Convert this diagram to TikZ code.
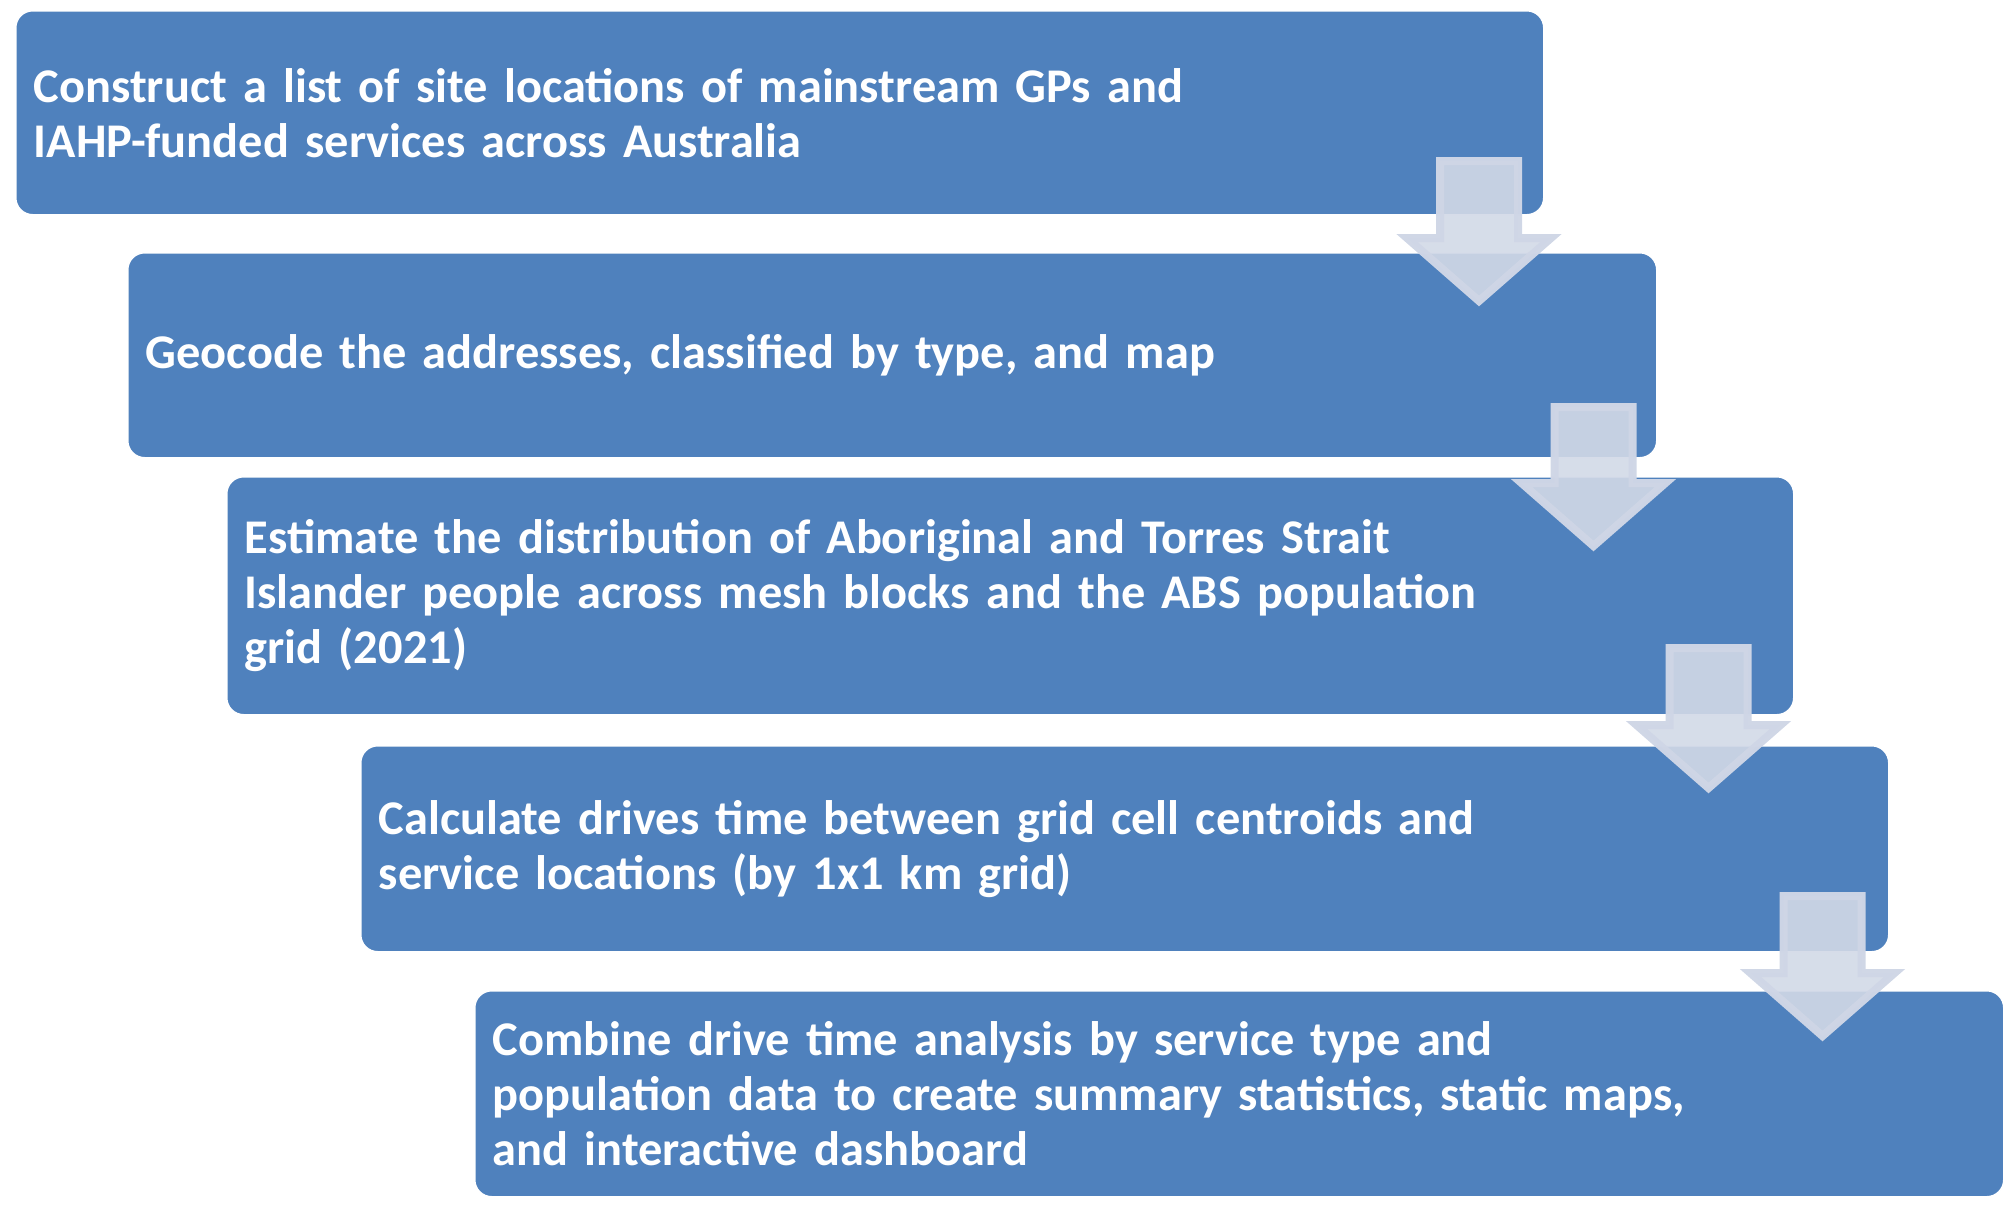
\documentclass[tikz,border=0pt]{standalone}
\usepackage{fontspec}
\setmainfont{Carlito}
\definecolor{boxblue}{RGB}{79,129,189}
\definecolor{arrowfill}{RGB}{210,217,231}
\definecolor{arrowedge}{RGB}{207,214,230}
\tikzset{
  stepbox/.style={draw=white, line width=1.5bp, fill=boxblue, rounded corners=17bp,
    anchor=north west, inner xsep=18bp, inner ysep=0bp, align=left, text=white,
    font=\fontsize{48.4bp}{55bp}\selectfont\bfseries},
  flowarrow/.style={fill=arrowfill, fill opacity=0.9, draw=arrowedge, draw opacity=0.98,
    line width=8bp, line join=miter}
}
\newcommand\dnarrow[4]{% cx, top, base, tip (outer)
  \draw[flowarrow] (#1-39,#2+4) -- (#1+39,#2+4) -- (#1+39,#3+4) -- (#1+72,#3+4)
     -- (#1,#4-6) -- (#1-72,#3+4) -- (#1-39,#3+4) -- cycle;}
\begin{document}
\begin{tikzpicture}[x=1bp,y=-1bp]
\useasboundingbox (0,0) rectangle (2013,1207);
\node[stepbox, text width=1492bp, minimum height=204bp] (b1) at (15,10)
  {Construct a list of site locations of mainstream GPs and\\IAHP-funded services across Australia};
\node[stepbox, text width=1493bp, minimum height=205bp] (b2) at (127,252)
  {Geocode the addresses, classified by type, and map};
\node[stepbox, text width=1531bp, minimum height=238bp] (b3) at (226,476)
  {Estimate the distribution of Aboriginal and Torres Strait\\Islander people across mesh blocks and the ABS population\\grid (2021)};
\node[stepbox, text width=1492bp, minimum height=206bp] (b4) at (360,745)
  {Calculate drives time between grid cell centroids and\\service locations (by 1x1 km grid)};
\node[stepbox, text width=1493bp, minimum height=206bp] (b5) at (474,990)
  {Combine drive time analysis by service type and\\population data to create summary statistics, static maps,\\and interactive dashboard};
\dnarrow{1479}{157}{234}{307}
\dnarrow{1593.5}{403}{479}{552}
\dnarrow{1708.5}{644}{721}{794}
\dnarrow{1822.5}{892}{969}{1042}
\end{tikzpicture}
\end{document}
